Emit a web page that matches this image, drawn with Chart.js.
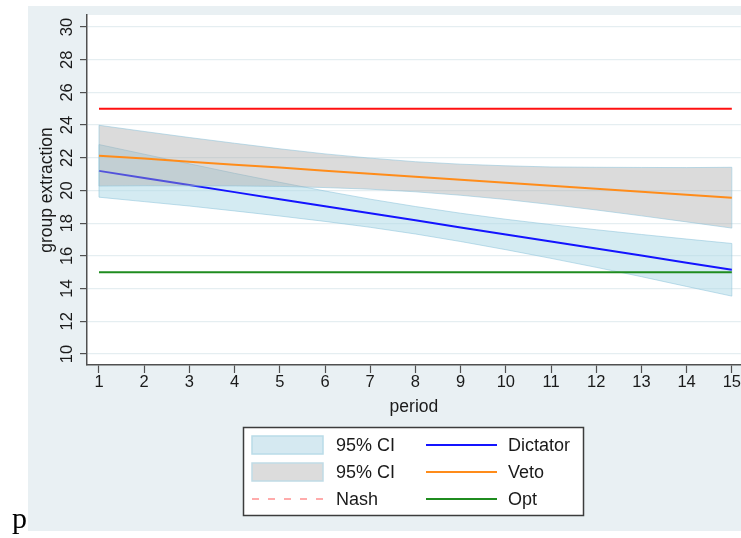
<!DOCTYPE html>
<html><head><meta charset="utf-8">
<script src="https://cdn.jsdelivr.net/npm/chart.js@4.4.0/dist/chart.umd.min.js"></script>
<style>
html,body{margin:0;padding:0;background:#fff;}
#wrap{position:relative;width:741px;height:538px;overflow:hidden;}
#c{position:absolute;left:0;top:0;}
#p{position:absolute;left:12px;top:503px;font:30px/30px "Liberation Serif",serif;color:#000;}
</style></head><body>
<div id="wrap"><canvas id="c" width="741" height="538"></canvas><div id="p">p</div></div>
<script>
// ---- data ----
const periods    = [1,2,3,4,5,6,7,8,9,10,11,12,13,14,15];
const dictator   = [21.20,20.77,20.34,19.90,19.47,19.04,18.61,18.18,17.74,17.31,16.88,16.45,16.02,15.58,15.15];
const dictatorHi = [22.81,22.22,21.63,21.05,20.50,19.97,19.47,19.02,18.61,18.24,17.91,17.60,17.31,17.03,16.76];
const dictatorLo = [19.59,19.32,19.05,18.75,18.44,18.11,17.75,17.34,16.88,16.38,15.85,15.30,14.73,14.13,13.54];
const veto       = [22.13,21.95,21.76,21.58,21.40,21.21,21.03,20.84,20.66,20.48,20.29,20.11,19.93,19.74,19.56];
const vetoHi     = [23.99,23.61,23.24,22.89,22.55,22.24,21.98,21.76,21.61,21.51,21.44,21.42,21.41,21.40,21.42];
const vetoLo     = [20.27,20.29,20.28,20.28,20.25,20.18,20.08,19.92,19.71,19.45,19.14,18.81,18.45,18.08,17.70];
const nash       = [25,25,25,25,25,25,25,25,25,25,25,25,25,25,25];
const opt        = [15,15,15,15,15,15,15,15,15,15,15,15,15,15,15];
const xTicks     = [1,2,3,4,5,6,7,8,9,10,11,12,13,14,15];
const yTicks     = [10,12,14,16,18,20,22,24,26,28,30];
const xTitle = 'period';
const yTitle = 'group extraction';
const legendLabels = ['95% CI','95% CI','Nash','Dictator','Veto','Opt'];

// ---- styles ----
const FONT = 'Liberation Sans';
const TXT = '#1a1a1a';
const AXIS = '#505050';
const BG = '#e9f0f3';
const blueFill = 'rgba(173,216,230,0.52)';
const grayFill = 'rgba(170,170,170,0.42)';
const edgeCol = 'rgba(140,195,218,0.55)';
const cBlue = '#1414ff', cOrange = '#ff8c1a', cRed = '#ff1010', cGreen = '#1f8c1f', cPink = '#ffabab';

const pts = a => periods.map((p,i)=>({x:p, y:a[i]}));
const edges = (lo,hi) => {
  const n = periods.length - 1;
  return [{x:periods[0],y:lo[0]},{x:periods[0],y:hi[0]},{x:periods[0],y:null},
          {x:periods[n],y:lo[n]},{x:periods[n],y:hi[n]}];
};
const base = {pointRadius:0, pointHoverRadius:0, tension:0, fill:false, borderCapStyle:'butt', spanGaps:false};

const bgPlugin = {
  id:'bg',
  beforeDraw(chart){
    const ctx = chart.ctx, ca = chart.chartArea;
    ctx.save();
    ctx.fillStyle = '#ffffff';
    ctx.fillRect(0,0,chart.width,chart.height);
    ctx.fillStyle = BG;
    ctx.fillRect(28,6,chart.width-28,525);
    ctx.fillStyle = '#ffffff';
    ctx.fillRect(ca.left,ca.top,ca.right-ca.left,ca.bottom-ca.top);
    ctx.restore();
  }
};

const yLabelPlugin = {
  id:'ylabels',
  afterDraw(chart){
    const ctx = chart.ctx, ys = chart.scales.y;
    ctx.save();
    ctx.fillStyle = TXT;
    ctx.font = '16.5px "' + FONT + '"';
    ctx.textAlign = 'center';
    ctx.textBaseline = 'middle';
    yTicks.forEach(v=>{
      const py = ys.getPixelForValue(v);
      ctx.save();
      ctx.translate(67.5, py);
      ctx.rotate(-Math.PI/2);
      ctx.fillText(String(v), 0, 0);
      ctx.restore();
    });
    ctx.restore();
  }
};

const legendPlugin = {
  id:'stataLegend',
  afterDraw(chart){
    const ctx = chart.ctx, ca = chart.chartArea;
    const cx = (ca.left + ca.right)/2;
    const bx = Math.round(cx - 170.5), by = 427, bw = 341, bh = 89;
    ctx.save();
    ctx.fillStyle = '#ffffff';
    ctx.fillRect(bx,by,bw,bh);
    ctx.strokeStyle = '#3c3c3c';
    ctx.lineWidth = 1.5;
    ctx.strokeRect(bx+0.5,by+0.5,bw-1,bh-1);
    const rows = [445,472,499];
    const sx = bx + 9, sw = 71;
    const lx = bx + 183, lw = 71;
    ctx.lineWidth = 1.5;
    ctx.fillStyle = '#d5e9f1'; ctx.strokeStyle = '#b9dbe8';
    ctx.fillRect(sx, rows[0]-9, sw, 18); ctx.strokeRect(sx, rows[0]-9, sw, 18);
    ctx.fillStyle = '#dcdcdc'; ctx.strokeStyle = '#c0dbe6';
    ctx.fillRect(sx, rows[1]-9, sw, 18); ctx.strokeRect(sx, rows[1]-9, sw, 18);
    ctx.strokeStyle = cPink; ctx.lineWidth = 1.8; ctx.setLineDash([7,9]);
    ctx.beginPath(); ctx.moveTo(sx, rows[2]); ctx.lineTo(sx+sw, rows[2]); ctx.stroke();
    ctx.setLineDash([]);
    [[cBlue,rows[0]],[cOrange,rows[1]],[cGreen,rows[2]]].forEach(([c,y])=>{
      ctx.strokeStyle = c; ctx.lineWidth = 2;
      ctx.beginPath(); ctx.moveTo(lx, y); ctx.lineTo(lx+lw, y); ctx.stroke();
    });
    ctx.fillStyle = TXT;
    ctx.font = '18px "' + FONT + '"';
    ctx.textAlign = 'left'; ctx.textBaseline = 'middle';
    for (let i=0;i<3;i++) ctx.fillText(legendLabels[i], bx+93, rows[i]+1);
    for (let i=0;i<3;i++) ctx.fillText(legendLabels[i+3], bx+265, rows[i]+1);
    ctx.restore();
  }
};

new Chart(document.getElementById('c'), {
  type:'line',
  data:{
    datasets:[
      Object.assign({}, base, {label:'dHi', data:pts(dictatorHi), borderColor:edgeCol, borderWidth:1, order:10}),
      Object.assign({}, base, {label:'dLo', data:pts(dictatorLo), borderColor:edgeCol, borderWidth:1, fill:'-1', backgroundColor:blueFill, order:10}),
      Object.assign({}, base, {label:'dEdge', data:edges(dictatorLo,dictatorHi), borderColor:edgeCol, borderWidth:1, order:9.5}),
      Object.assign({}, base, {label:'Dictator', data:pts(dictator), borderColor:cBlue, borderWidth:2, order:9}),
      Object.assign({}, base, {label:'vHi', data:pts(vetoHi), borderColor:edgeCol, borderWidth:1, order:8}),
      Object.assign({}, base, {label:'vLo', data:pts(vetoLo), borderColor:edgeCol, borderWidth:1, fill:'-1', backgroundColor:grayFill, order:8}),
      Object.assign({}, base, {label:'vEdge', data:edges(vetoLo,vetoHi), borderColor:edgeCol, borderWidth:1, order:7.5}),
      Object.assign({}, base, {label:'Veto', data:pts(veto), borderColor:cOrange, borderWidth:2, order:7}),
      Object.assign({}, base, {label:'Nash', data:pts(nash), borderColor:cRed, borderWidth:2, order:6}),
      Object.assign({}, base, {label:'Opt', data:pts(opt), borderColor:cGreen, borderWidth:2.2, order:6})
    ]
  },
  options:{
    responsive:false,
    animation:false,
    devicePixelRatio:1,
    layout:{padding:{left:28, top:15, right:0, bottom:117}},
    plugins:{legend:{display:false}, tooltip:{enabled:false}},
    events:[],
    scales:{
      x:{
        type:'linear', min:0.7346, max:15.199,
        afterBuildTicks: s => { s.ticks = xTicks.map(v=>({value:v})); },
        afterFit: s => { s.height = 56; },
        grid:{drawOnChartArea:false, tickLength:8, tickColor:AXIS, tickWidth:1.2},
        border:{color:AXIS, width:1.5},
        ticks:{font:{family:FONT, size:16.5}, color:TXT, padding:0, maxRotation:0, minRotation:0, autoSkip:false,
               callback: v => String(v)},
        title:{display:true, text:xTitle, font:{family:FONT, size:17.5}, color:TXT, padding:{top:0, bottom:3}}
      },
      y:{
        type:'linear', min:9.327, max:30.734,
        afterBuildTicks: s => { s.ticks = yTicks.map(v=>({value:v})); },
        afterFit: s => { s.width = 59; },
        grid:{color:'#e5eef1', lineWidth:1.2, tickLength:7, tickColor:AXIS, tickWidth:1.2},
        border:{color:AXIS, width:1.5},
        ticks:{display:false},
        title:{display:true, text:yTitle, font:{family:FONT, size:17.5}, color:TXT, padding:{top:9, bottom:0}}
      }
    }
  },
  plugins:[bgPlugin, yLabelPlugin, legendPlugin]
});
</script>
</body></html>
